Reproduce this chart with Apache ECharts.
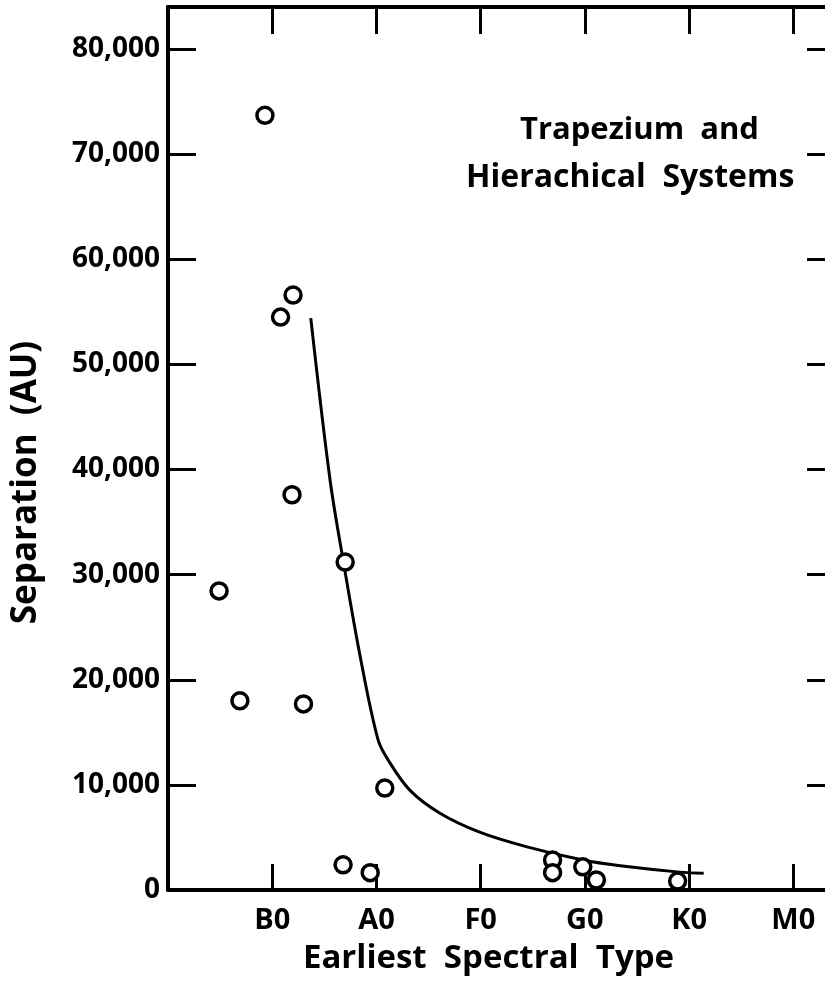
<!DOCTYPE html>
<html>
<head>
<meta charset="utf-8">
<script src="https://cdn.jsdelivr.net/npm/echarts@6/dist/echarts.min.js"></script>
<style>
  html, body { margin: 0; padding: 0; background: #fff; }
  #chart { width: 825px; height: 984px; }
</style>
</head>
<body>
<div id="chart"></div>
<script>
// spectral classes, x position 0 = O0 (left frame), 1 = B0 ... 6 = M0
const spectralTypes = ['', 'B0', 'A0', 'F0', 'G0', 'K0', 'M0']

// observed systems: [spectral position, separation AU]
const systemX = [0.93, 1.08, 1.20, 1.19, 0.49, 0.69, 1.30, 1.70, 2.08, 1.68, 1.94, 3.69, 3.69, 3.98, 4.11, 4.89]
const systemSep = [73700, 54500, 56600, 37600, 28450, 18000, 17700, 31200, 9700, 2400, 1650, 2850, 1650, 2200, 950, 850]

// hand-drawn trend curve
const curveX = [1.37, 1.555, 1.68, 1.85, 2.015, 2.11, 2.32, 2.61, 2.99, 3.445, 3.98, 4.34, 4.91, 5.14]
const curveSep = [54400, 39000, 31400, 21900, 14300, 12400, 9500, 7300, 5500, 4100, 2850, 2300, 1700, 1600]

const yTicks = [0, 10000, 20000, 30000, 40000, 50000, 60000, 70000, 80000]

const font = 'Open Sans'
const chart = echarts.init(document.getElementById('chart'))

const fmtSep = v => (yTicks.includes(v) ? v.toLocaleString('en-US') : '')
const fmtType = v => {
  const i = Math.round(v)
  return Math.abs(v - i) < 1e-6 && spectralTypes[i] ? spectralTypes[i] : ''
}

chart.setOption({
  backgroundColor: '#fff',
  animation: false,
  // right frame edge sits just outside the picture
  grid: { left: 168, top: 7, right: -10, bottom: 94, outerBoundsMode: 'none', containLabel: false },
  xAxis: [
    {
      type: 'value',
      min: 0,
      max: 6.4,
      interval: 1,
      name: 'Earliest  Spectral  Type',
      nameLocation: 'middle',
      nameGap: 52,
      nameTextStyle: { fontFamily: font, fontWeight: 'bold', fontSize: 33, color: '#000', padding: [0, 26, 0, 0] },
      axisLine: { onZero: false, lineStyle: { color: '#000', width: 4 } },
      axisTick: { inside: true, length: 26, lineStyle: { color: '#000', width: 3 } },
      axisLabel: { margin: 16, fontFamily: font, fontWeight: 'bold', fontSize: 29, color: '#000', formatter: fmtType },
      splitLine: { show: false }
    },
    {
      type: 'value',
      position: 'top',
      min: 0,
      max: 6.4,
      interval: 1,
      axisLine: { onZero: false, lineStyle: { color: '#000', width: 4 } },
      axisTick: { inside: true, length: 27, lineStyle: { color: '#000', width: 3 } },
      axisLabel: { show: false },
      splitLine: { show: false }
    }
  ],
  yAxis: [
    {
      type: 'value',
      min: 0,
      max: 84000,
      interval: 10000,
      name: 'Separation  (AU)',
      nameLocation: 'middle',
      nameGap: 124,
      nameTextStyle: { fontFamily: font, fontWeight: 'bold', fontSize: 35, color: '#000', padding: [0, 68, 0, 0] },
      axisLine: { onZero: false, lineStyle: { color: '#000', width: 4 } },
      axisTick: { inside: true, length: 28, lineStyle: { color: '#000', width: 3 } },
      axisLabel: { margin: 8, fontFamily: font, fontWeight: 'bold', fontSize: 28, color: '#000', formatter: fmtSep },
      splitLine: { show: false }
    },
    {
      type: 'value',
      position: 'right',
      min: 0,
      max: 84000,
      interval: 10000,
      axisLine: { show: false, onZero: false },
      axisTick: { inside: true, length: 28, lineStyle: { color: '#000', width: 3 } },
      axisLabel: { show: false },
      splitLine: { show: false }
    }
  ],
  graphic: [
    {
      type: 'text',
      left: 520,
      top: 115,
      style: { text: 'Trapezium  and', font: 'bold 31px "Open Sans"', fill: '#000' }
    },
    {
      type: 'text',
      left: 466,
      top: 162,
      style: { text: 'Hierachical  Systems', font: 'bold 32px "Open Sans"', fill: '#000' }
    }
  ],
  series: [
    {
      type: 'line',
      data: curveX.map((x, i) => [x, curveSep[i]]),
      showSymbol: false,
      smooth: 0.35,
      lineStyle: { color: '#000', width: 3 },
      z: 2
    },
    {
      type: 'scatter',
      data: systemX.map((x, i) => [x, systemSep[i]]),
      symbol: 'circle',
      symbolSize: 16,
      itemStyle: { color: '#fff', borderColor: '#000', borderWidth: 3.5, opacity: 1 },
      z: 3
    }
  ]
})
</script>
</body>
</html>
